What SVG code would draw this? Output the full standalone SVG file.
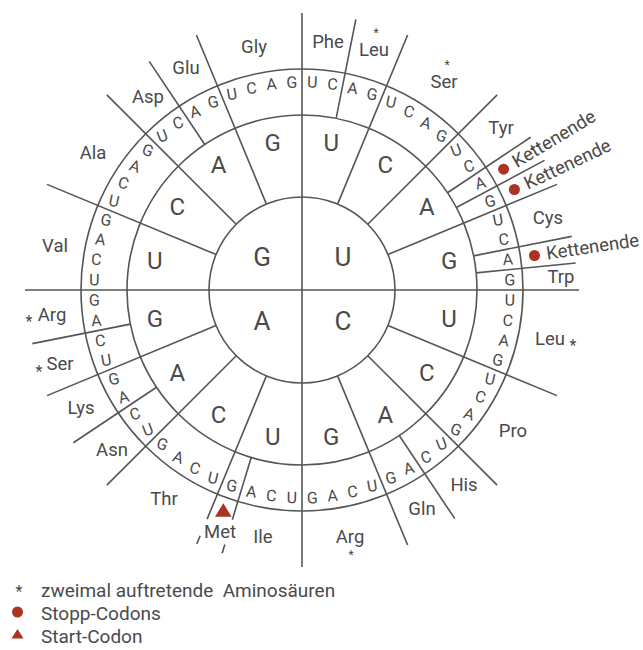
<svg xmlns="http://www.w3.org/2000/svg" width="643" height="650" viewBox="0 0 643 650">
<style>
text{font-family:Roboto,"Liberation Sans",sans-serif;fill:#4a4a4a}
.ln{stroke:#555;stroke-width:1.6;fill:none}
.c1{font-size:26px;text-anchor:middle;dominant-baseline:central}
.c2{font-size:24px;text-anchor:middle;dominant-baseline:central}
.c3{font-size:16px;text-anchor:middle;dominant-baseline:central}
.aa{font-size:18.5px;text-anchor:middle;dominant-baseline:central}
.ke{font-size:18.5px;text-anchor:start;dominant-baseline:central}
.ast{font-size:16px;text-anchor:middle}
.st{font-size:12px;text-anchor:middle;dominant-baseline:central}
.lg{font-size:19px}
.red{fill:#aa3322}
</style>
<rect width="643" height="650" fill="#fff"/>
<g id="circles">
<circle class="ln" cx="302" cy="290" r="93"/>
<circle class="ln" cx="302" cy="290" r="175"/>
<circle class="ln" cx="302" cy="290" r="221"/>
</g>
<g id="connectors">
<line class="ln" x1="302" y1="13" x2="302" y2="567"/>
<line class="ln" x1="25" y1="290" x2="579" y2="290"/>
<g transform="rotate(22.5 302 290)"><line class="ln" x1="302" y1="197" x2="302" y2="14"/></g>
<g transform="rotate(45 302 290)"><line class="ln" x1="302" y1="197" x2="302" y2="14"/></g>
<g transform="rotate(67.5 302 290)"><line class="ln" x1="302" y1="197" x2="302" y2="14"/></g>
<g transform="rotate(112.5 302 290)"><line class="ln" x1="302" y1="197" x2="302" y2="14"/></g>
<g transform="rotate(135 302 290)"><line class="ln" x1="302" y1="197" x2="302" y2="14"/></g>
<g transform="rotate(157.5 302 290)"><line class="ln" x1="302" y1="197" x2="302" y2="14"/></g>
<g transform="rotate(202.5 302 290)"><line class="ln" x1="302" y1="197" x2="302" y2="42"/><line class="ln" x1="302" y1="24" x2="302" y2="15"/></g>
<g transform="rotate(225 302 290)"><line class="ln" x1="302" y1="197" x2="302" y2="14"/></g>
<g transform="rotate(247.5 302 290)"><line class="ln" x1="302" y1="197" x2="302" y2="14"/></g>
<g transform="rotate(292.5 302 290)"><line class="ln" x1="302" y1="197" x2="302" y2="14"/></g>
<g transform="rotate(315 302 290)"><line class="ln" x1="302" y1="197" x2="302" y2="14"/></g>
<g transform="rotate(337.5 302 290)"><line class="ln" x1="302" y1="197" x2="302" y2="14"/></g>
<g transform="rotate(11.25 302 290)"><line class="ln" x1="302" y1="115" x2="302" y2="14"/></g>
<g transform="rotate(56.25 302 290)"><line class="ln" x1="302" y1="115" x2="302" y2="15"/></g>
<g transform="rotate(61.875 302 290)"><line class="ln" x1="302" y1="115" x2="302" y2="15"/></g>
<g transform="rotate(78.75 302 290)"><line class="ln" x1="302" y1="115" x2="302" y2="15"/></g>
<g transform="rotate(84.375 302 290)"><line class="ln" x1="302" y1="115" x2="302" y2="15"/></g>
<g transform="rotate(146.25 302 290)"><line class="ln" x1="302" y1="115" x2="302" y2="15"/></g>
<g transform="rotate(196.875 302 290)"><line class="ln" x1="302" y1="115" x2="302" y2="50"/><line class="ln" x1="302" y1="24" x2="302" y2="15"/></g>
<g transform="rotate(236.25 302 290)"><line class="ln" x1="302" y1="115" x2="302" y2="15"/></g>
<g transform="rotate(258.75 302 290)"><line class="ln" x1="302" y1="115" x2="302" y2="15"/></g>
<g transform="rotate(326.25 302 290)"><line class="ln" x1="302" y1="115" x2="302" y2="15"/></g>
</g>
<g id="first-base">
<text class="c1" x="343" y="257">U</text>
<text class="c1" x="343" y="321">C</text>
<text class="c1" x="262" y="321">A</text>
<text class="c1" x="262" y="257">G</text>
</g>
<g id="second-base">
<text class="c2" x="302" y="140" transform="rotate(11.25 302 290) rotate(-11.25 302 140)">U</text>
<text class="c2" x="302" y="140" transform="rotate(33.75 302 290) rotate(-33.75 302 140)">C</text>
<text class="c2" x="302" y="140" transform="rotate(56.25 302 290) rotate(-56.25 302 140)">A</text>
<text class="c2" x="302" y="140" transform="rotate(78.75 302 290) rotate(-78.75 302 140)">G</text>
<text class="c2" x="302" y="140" transform="rotate(101.25 302 290) rotate(-101.25 302 140)">U</text>
<text class="c2" x="302" y="140" transform="rotate(123.75 302 290) rotate(-123.75 302 140)">C</text>
<text class="c2" x="302" y="140" transform="rotate(146.25 302 290) rotate(-146.25 302 140)">A</text>
<text class="c2" x="302" y="140" transform="rotate(168.75 302 290) rotate(-168.75 302 140)">G</text>
<text class="c2" x="302" y="140" transform="rotate(191.25 302 290) rotate(-191.25 302 140)">U</text>
<text class="c2" x="302" y="140" transform="rotate(213.75 302 290) rotate(-213.75 302 140)">C</text>
<text class="c2" x="302" y="140" transform="rotate(236.25 302 290) rotate(-236.25 302 140)">A</text>
<text class="c2" x="302" y="140" transform="rotate(258.75 302 290) rotate(-258.75 302 140)">G</text>
<text class="c2" x="302" y="140" transform="rotate(281.25 302 290) rotate(-281.25 302 140)">U</text>
<text class="c2" x="302" y="140" transform="rotate(303.75 302 290) rotate(-303.75 302 140)">C</text>
<text class="c2" x="302" y="140" transform="rotate(326.25 302 290) rotate(-326.25 302 140)">A</text>
<text class="c2" x="302" y="140" transform="rotate(348.75 302 290) rotate(-348.75 302 140)">G</text>
</g>
<g id="third-base">
<text class="c3" x="302" y="82" transform="rotate(2.8125 302 290) rotate(-1.41 302 82)">U</text>
<text class="c3" x="302" y="82" transform="rotate(8.4375 302 290) rotate(-4.22 302 82)">C</text>
<text class="c3" x="302" y="82" transform="rotate(14.0625 302 290) rotate(-7.03 302 82)">A</text>
<text class="c3" x="302" y="82" transform="rotate(19.6875 302 290) rotate(-9.84 302 82)">G</text>
<text class="c3" x="302" y="82" transform="rotate(25.3125 302 290) rotate(-12.66 302 82)">U</text>
<text class="c3" x="302" y="82" transform="rotate(30.9375 302 290) rotate(-15.47 302 82)">C</text>
<text class="c3" x="302" y="82" transform="rotate(36.5625 302 290) rotate(-18.28 302 82)">A</text>
<text class="c3" x="302" y="82" transform="rotate(42.1875 302 290) rotate(-21.09 302 82)">G</text>
<text class="c3" x="302" y="82" transform="rotate(47.8125 302 290) rotate(-68.91 302 82)">U</text>
<text class="c3" x="302" y="82" transform="rotate(53.4375 302 290) rotate(-71.72 302 82)">C</text>
<text class="c3" x="302" y="82" transform="rotate(59.0625 302 290) rotate(-74.53 302 82)">A</text>
<text class="c3" x="302" y="82" transform="rotate(64.6875 302 290) rotate(-77.34 302 82)">G</text>
<text class="c3" x="302" y="82" transform="rotate(70.3125 302 290) rotate(-80.16 302 82)">U</text>
<text class="c3" x="302" y="82" transform="rotate(75.9375 302 290) rotate(-82.97 302 82)">C</text>
<text class="c3" x="302" y="82" transform="rotate(81.5625 302 290) rotate(-85.78 302 82)">A</text>
<text class="c3" x="302" y="82" transform="rotate(87.1875 302 290) rotate(-88.59 302 82)">G</text>
<text class="c3" x="302" y="82" transform="rotate(92.8125 302 290) rotate(-91.41 302 82)">U</text>
<text class="c3" x="302" y="82" transform="rotate(98.4375 302 290) rotate(-94.22 302 82)">C</text>
<text class="c3" x="302" y="82" transform="rotate(104.0625 302 290) rotate(-97.03 302 82)">A</text>
<text class="c3" x="302" y="82" transform="rotate(109.6875 302 290) rotate(-99.84 302 82)">G</text>
<text class="c3" x="302" y="82" transform="rotate(115.3125 302 290) rotate(-102.66 302 82)">U</text>
<text class="c3" x="302" y="82" transform="rotate(120.9375 302 290) rotate(-105.47 302 82)">C</text>
<text class="c3" x="302" y="82" transform="rotate(126.5625 302 290) rotate(-108.28 302 82)">A</text>
<text class="c3" x="302" y="82" transform="rotate(132.1875 302 290) rotate(-111.09 302 82)">G</text>
<text class="c3" x="302" y="82" transform="rotate(137.8125 302 290) rotate(-158.91 302 82)">U</text>
<text class="c3" x="302" y="82" transform="rotate(143.4375 302 290) rotate(-161.72 302 82)">C</text>
<text class="c3" x="302" y="82" transform="rotate(149.0625 302 290) rotate(-164.53 302 82)">A</text>
<text class="c3" x="302" y="82" transform="rotate(154.6875 302 290) rotate(-167.34 302 82)">G</text>
<text class="c3" x="302" y="82" transform="rotate(160.3125 302 290) rotate(-170.16 302 82)">U</text>
<text class="c3" x="302" y="82" transform="rotate(165.9375 302 290) rotate(-172.97 302 82)">C</text>
<text class="c3" x="302" y="82" transform="rotate(171.5625 302 290) rotate(-175.78 302 82)">A</text>
<text class="c3" x="302" y="82" transform="rotate(177.1875 302 290) rotate(-178.59 302 82)">G</text>
<text class="c3" x="302" y="82" transform="rotate(182.8125 302 290) rotate(-181.41 302 82)">U</text>
<text class="c3" x="302" y="82" transform="rotate(188.4375 302 290) rotate(-184.22 302 82)">C</text>
<text class="c3" x="302" y="82" transform="rotate(194.0625 302 290) rotate(-187.03 302 82)">A</text>
<text class="c3" x="302" y="82" transform="rotate(199.6875 302 290) rotate(-189.84 302 82)">G</text>
<text class="c3" x="302" y="82" transform="rotate(205.3125 302 290) rotate(-192.66 302 82)">U</text>
<text class="c3" x="302" y="82" transform="rotate(210.9375 302 290) rotate(-195.47 302 82)">C</text>
<text class="c3" x="302" y="82" transform="rotate(216.5625 302 290) rotate(-198.28 302 82)">A</text>
<text class="c3" x="302" y="82" transform="rotate(222.1875 302 290) rotate(-201.09 302 82)">G</text>
<text class="c3" x="302" y="82" transform="rotate(227.8125 302 290) rotate(-248.91 302 82)">U</text>
<text class="c3" x="302" y="82" transform="rotate(233.4375 302 290) rotate(-251.72 302 82)">C</text>
<text class="c3" x="302" y="82" transform="rotate(239.0625 302 290) rotate(-254.53 302 82)">A</text>
<text class="c3" x="302" y="82" transform="rotate(244.6875 302 290) rotate(-257.34 302 82)">G</text>
<text class="c3" x="302" y="82" transform="rotate(250.3125 302 290) rotate(-260.16 302 82)">U</text>
<text class="c3" x="302" y="82" transform="rotate(255.9375 302 290) rotate(-262.97 302 82)">C</text>
<text class="c3" x="302" y="82" transform="rotate(261.5625 302 290) rotate(-265.78 302 82)">A</text>
<text class="c3" x="302" y="82" transform="rotate(267.1875 302 290) rotate(-268.59 302 82)">G</text>
<text class="c3" x="302" y="82" transform="rotate(272.8125 302 290) rotate(-271.41 302 82)">U</text>
<text class="c3" x="302" y="82" transform="rotate(278.4375 302 290) rotate(-274.22 302 82)">C</text>
<text class="c3" x="302" y="82" transform="rotate(284.0625 302 290) rotate(-277.03 302 82)">A</text>
<text class="c3" x="302" y="82" transform="rotate(289.6875 302 290) rotate(-279.84 302 82)">G</text>
<text class="c3" x="302" y="82" transform="rotate(295.3125 302 290) rotate(-282.66 302 82)">U</text>
<text class="c3" x="302" y="82" transform="rotate(300.9375 302 290) rotate(-285.47 302 82)">C</text>
<text class="c3" x="302" y="82" transform="rotate(306.5625 302 290) rotate(-288.28 302 82)">A</text>
<text class="c3" x="302" y="82" transform="rotate(312.1875 302 290) rotate(-291.09 302 82)">G</text>
<text class="c3" x="302" y="82" transform="rotate(317.8125 302 290) rotate(-338.91 302 82)">U</text>
<text class="c3" x="302" y="82" transform="rotate(323.4375 302 290) rotate(-341.72 302 82)">C</text>
<text class="c3" x="302" y="82" transform="rotate(329.0625 302 290) rotate(-344.53 302 82)">A</text>
<text class="c3" x="302" y="82" transform="rotate(334.6875 302 290) rotate(-347.34 302 82)">G</text>
<text class="c3" x="302" y="82" transform="rotate(340.3125 302 290) rotate(-350.16 302 82)">U</text>
<text class="c3" x="302" y="82" transform="rotate(345.9375 302 290) rotate(-352.97 302 82)">C</text>
<text class="c3" x="302" y="82" transform="rotate(351.5625 302 290) rotate(-355.78 302 82)">A</text>
<text class="c3" x="302" y="82" transform="rotate(357.1875 302 290) rotate(-358.59 302 82)">G</text>
</g>
<g id="amino-acids">
<text class="aa" x="328" y="42">Phe</text>
<text class="st" x="376" y="32.5">*</text>
<text class="aa" x="374" y="50">Leu</text>
<text class="st" x="447" y="64.5">*</text>
<text class="aa" x="444" y="82">Ser</text>
<text class="aa" x="501" y="128">Tyr</text>
<text class="aa" x="548" y="218">Cys</text>
<text class="aa" x="561" y="277">Trp</text>
<text class="aa" x="550" y="339">Leu</text><text class="ast" x="573" y="351">*</text>
<text class="aa" x="513" y="431">Pro</text>
<text class="aa" x="464" y="485">His</text>
<text class="aa" x="422" y="509">Gln</text>
<text class="aa" x="350" y="537">Arg</text>
<text class="st" x="351" y="554.5">*</text>
<text class="aa" x="263" y="537">Ile</text>
<text class="aa" x="220" y="532">Met</text>
<text class="aa" x="164" y="499">Thr</text>
<text class="aa" x="112" y="450">Asn</text>
<text class="aa" x="81" y="408">Lys</text>
<text class="aa" x="60" y="364">Ser</text><text class="ast" x="39" y="377">*</text>
<text class="aa" x="52" y="315">Arg</text><text class="ast" x="29" y="327">*</text>
<text class="aa" x="55" y="246">Val</text>
<text class="aa" x="93" y="153">Ala</text>
<text class="aa" x="148" y="97">Asp</text>
<text class="aa" x="186" y="68">Glu</text>
<text class="aa" x="254" y="47">Gly</text>
</g>
<g id="stop-codons">
<circle class="red" cx="503.6" cy="169.2" r="5.5"/>
<text class="ke" x="549" y="290" transform="rotate(-30.9375 302 290)">Kettenende</text>
<circle class="red" cx="514.4" cy="189.5" r="5.5"/>
<text class="ke" x="549" y="290" transform="rotate(-25.3125 302 290)">Kettenende</text>
<circle class="red" cx="534.5" cy="255.5" r="5.5"/>
<text class="ke" x="549" y="290" transform="rotate(-8.4375 302 290)">Kettenende</text>
</g>
<g id="start-codon">
<polygon class="red" points="223.3,503.3 215,516.7 231.6,516.7"/>
</g>
<g id="legend">
<text class="ast" x="19" y="597">*</text>
<text class="lg" x="41" y="597" xml:space="preserve">zweimal auftretende  Aminosäuren</text>
<circle class="red" cx="17.5" cy="612" r="5.5"/>
<text class="lg" x="41" y="619.5">Stopp-Codons</text>
<polygon class="red" points="17.5,629 11.5,638.5 23.5,638.5"/>
<text class="lg" x="41" y="643">Start-Codon</text>
</g>
</svg>
